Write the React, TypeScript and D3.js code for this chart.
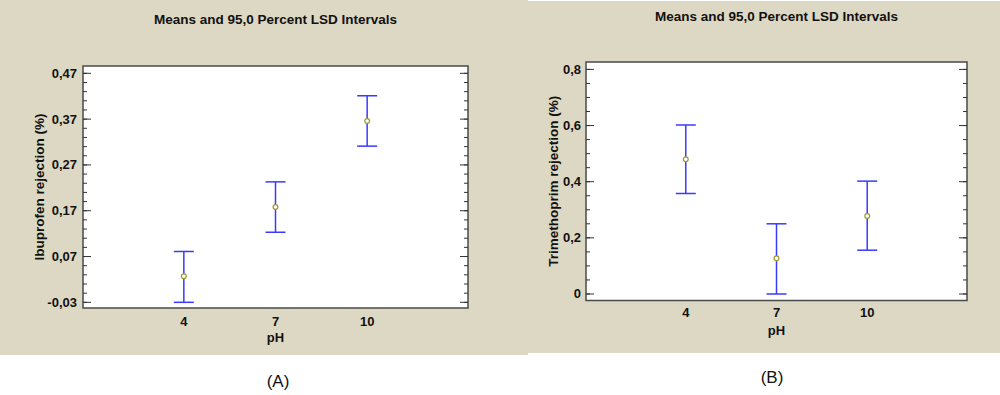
import { useEffect, useRef } from "react";
import * as d3 from "d3";

// pH levels (categories)
const phLevels = ["4", "7", "10"];

// Panel A: Ibuprofen rejection
const ibuMean = [0.027, 0.178, 0.366];
const ibuLower = [-0.03, 0.123, 0.311];
const ibuUpper = [0.081, 0.233, 0.421];
const ibuTicks = [-0.03, 0.07, 0.17, 0.27, 0.37, 0.47];
const ibuMinor = [-0.03, -0.01, 0.01, 0.03, 0.05, 0.07, 0.09, 0.11, 0.13, 0.15, 0.17, 0.19, 0.21, 0.23, 0.25, 0.27, 0.29, 0.31, 0.33, 0.35, 0.37, 0.39, 0.41, 0.43, 0.45, 0.47];
const ibuTickLabels = ["-0,03", "0,07", "0,17", "0,27", "0,37", "0,47"];

// Panel B: Trimethoprim rejection
const tmpMean = [0.48, 0.127, 0.278];
const tmpLower = [0.358, 0.0, 0.156];
const tmpUpper = [0.602, 0.25, 0.402];
const tmpTicks = [0, 0.2, 0.4, 0.6, 0.8];
const tmpMinor = [0, 0.05, 0.1, 0.15, 0.2, 0.25, 0.3, 0.35, 0.4, 0.45, 0.5, 0.55, 0.6, 0.65, 0.7, 0.75, 0.8];
const tmpTickLabels = ["0", "0,2", "0,4", "0,6", "0,8"];

const TITLE = "Means and 95,0 Percent LSD Intervals";
const BG = "#ddd8c3";
const FONT = "'Liberation Sans', Arial, sans-serif";

interface PanelSpec {
  bg: [number, number, number, number];
  plot: { left: number; right: number; top: number; bottom: number };
  yDomain: [number, number];
  mean: number[];
  lower: number[];
  upper: number[];
  ticks: number[];
  minor: number[];
  tickLabels: string[];
  yLabel: string;
  titleY: number;
  yLabelX: number;
  xLabelY: number;
  phY: number;
  tickGap: number;
  tag: string;
  tagX: number;
  tagY: number;
}

function drawPanel(g: d3.Selection<SVGGElement, unknown, null, undefined>, p: PanelSpec) {
  const [bx, by, bw, bh] = p.bg;
  g.append("rect").attr("x", bx).attr("y", by).attr("width", bw).attr("height", bh).attr("fill", BG);

  const { left, right, top, bottom } = p.plot;
  const x = d3.scalePoint<string>().domain(phLevels).range([left, right]).padding(1.1);
  const y = d3.scaleLinear().domain(p.yDomain).range([bottom, top]);

  g.append("rect")
    .attr("x", left)
    .attr("y", top)
    .attr("width", right - left)
    .attr("height", bottom - top)
    .attr("fill", "white")
    .attr("stroke", "#4a4a4a")
    .attr("stroke-width", 1.5);

  // minor ticks, both sides
  p.minor.forEach((v) => {
    g.append("line").attr("x1", left).attr("x2", left + 4).attr("y1", y(v)).attr("y2", y(v)).attr("stroke", "#333");
    g.append("line").attr("x1", right - 4).attr("x2", right).attr("y1", y(v)).attr("y2", y(v)).attr("stroke", "#333");
  });
  // major ticks + labels
  p.ticks.forEach((v, i) => {
    g.append("line").attr("x1", left).attr("x2", left + 8).attr("y1", y(v)).attr("y2", y(v)).attr("stroke", "#333");
    g.append("line").attr("x1", right - 8).attr("x2", right).attr("y1", y(v)).attr("y2", y(v)).attr("stroke", "#333");
    g.append("text")
      .attr("x", left - p.tickGap)
      .attr("y", y(v) + 4.5)
      .attr("text-anchor", "end")
      .attr("font-family", FONT)
      .attr("font-weight", "bold")
      .attr("font-size", 13)
      .attr("fill", "#111")
      .text(p.tickLabels[i]);
  });

  // x labels
  phLevels.forEach((c) => {
    g.append("text")
      .attr("x", x(c)!)
      .attr("y", p.xLabelY)
      .attr("text-anchor", "middle")
      .attr("font-family", FONT)
      .attr("font-weight", "bold")
      .attr("font-size", 13)
      .attr("fill", "#111")
      .text(c);
  });
  const mid = (left + right) / 2;
  g.append("text")
    .attr("x", mid)
    .attr("y", p.phY)
    .attr("text-anchor", "middle")
    .attr("font-family", FONT)
    .attr("font-weight", "bold")
    .attr("font-size", 13)
    .attr("fill", "#111")
    .text("pH");

  g.append("text")
    .attr("x", mid)
    .attr("y", p.titleY)
    .attr("text-anchor", "middle")
    .attr("font-family", FONT)
    .attr("font-weight", "bold")
    .attr("font-size", 13.5)
    .attr("fill", "#111")
    .text(TITLE);

  g.append("text")
    .attr("transform", `translate(${p.yLabelX},${(top + bottom) / 2}) rotate(-90)`)
    .attr("text-anchor", "middle")
    .attr("font-family", FONT)
    .attr("font-weight", "bold")
    .attr("font-size", 13.5)
    .attr("fill", "#111")
    .text(p.yLabel);

  // error bars
  const blue = "#3a3aff";
  phLevels.forEach((c, i) => {
    const cx = x(c)!;
    g.append("line").attr("x1", cx).attr("x2", cx).attr("y1", y(p.upper[i])).attr("y2", y(p.lower[i])).attr("stroke", blue).attr("stroke-width", 1.5);
    [p.upper[i], p.lower[i]].forEach((v) => {
      g.append("line").attr("x1", cx - 10).attr("x2", cx + 10).attr("y1", y(v)).attr("y2", y(v)).attr("stroke", blue).attr("stroke-width", 1.5);
    });
    g.append("circle").attr("cx", cx).attr("cy", y(p.mean[i])).attr("r", 2.4).attr("fill", "white").attr("stroke", "#9e9a2c").attr("stroke-width", 1.2);
  });

  g.append("text")
    .attr("x", p.tagX)
    .attr("y", p.tagY)
    .attr("text-anchor", "middle")
    .attr("font-family", FONT)
    .attr("font-size", 17)
    .attr("fill", "#111")
    .text(p.tag);
}

export default function App() {
  const ref = useRef<SVGSVGElement>(null);

  useEffect(() => {
    if (!ref.current) return;
    const svg = d3.select(ref.current);
    svg.selectAll("*").remove();

    drawPanel(svg.append("g"), {
      bg: [0, 0, 528, 355],
      plot: { left: 83, right: 468, top: 66, bottom: 308 },
      yDomain: [-0.0424, 0.486],
      mean: ibuMean,
      lower: ibuLower,
      upper: ibuUpper,
      ticks: ibuTicks,
      minor: ibuMinor,
      tickLabels: ibuTickLabels,
      yLabel: "Ibuprofen rejection (%)",
      titleY: 24,
      yLabelX: 44,
      xLabelY: 326,
      phY: 342,
      tickGap: 6,
      tag: "(A)",
      tagX: 278,
      tagY: 387,
    });

    drawPanel(svg.append("g"), {
      bg: [528, 1, 472, 352],
      plot: { left: 586, right: 967, top: 62, bottom: 300.5 },
      yDomain: [-0.0232, 0.8264],
      mean: tmpMean,
      lower: tmpLower,
      upper: tmpUpper,
      ticks: tmpTicks,
      minor: tmpMinor,
      tickLabels: tmpTickLabels,
      yLabel: "Trimethoprim rejection (%)",
      titleY: 21,
      yLabelX: 558,
      xLabelY: 317,
      phY: 335,
      tickGap: 5,
      tag: "(B)",
      tagX: 772,
      tagY: 383,
    });
  }, []);

  return (
    <svg
      ref={ref}
      width={1000}
      height={395}
      style={{ position: "absolute", left: 0, top: 0, background: "white" }}
    />
  );
}
